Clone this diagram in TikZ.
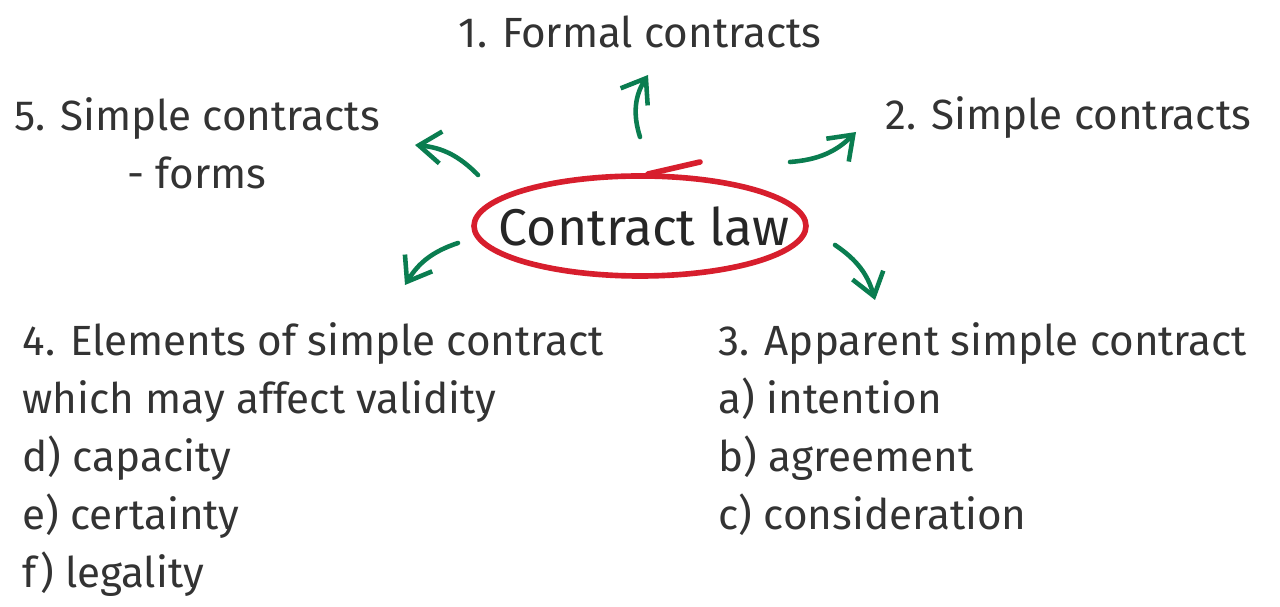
\documentclass[tikz,border=0pt]{standalone}
\usepackage{fontspec}
\setmainfont{Fira Sans}
\usetikzlibrary{arrows.meta}
\definecolor{arrowgreen}{RGB}{10,125,80}
\definecolor{ringred}{RGB}{215,30,45}
\tikzset{
  topic/.style={font=\fontsize{12}{16.5}\selectfont\color{black!80}, inner sep=0pt},
  branch/.style={-{Straight Barb[length=2.2mm,width=3.2mm]}, line width=1.3pt, color=arrowgreen, line cap=round}
}
\begin{document}
\begin{tikzpicture}[x=0.01cm,y=-0.01cm]
    \useasboundingbox (0,0) rectangle (1280,607);

    % Centre topic
    \node[font=\fontsize{14.7}{18}\selectfont\color{black!85}, inner sep=0pt] (law) at (644,226) {Contract law};
    \draw[ringred, line width=1.6pt] (640,226) ellipse (166 and 50);
    \draw[ringred, line width=1.6pt, line cap=round] (648,174) -- (700,162);

    % Branches
    \node[topic] (formal) at (640,32) {1. Formal contracts};
    \node[topic, anchor=west] (simple) at (885,118) {2. Simple contracts};
    \node[topic, align=center] (forms) at (197,143) {5. Simple contracts\\- forms};
    \node[topic, anchor=north west, align=left] (elements) at (22,322)
      {4. Elements of simple contract\\which may affect validity\\d) capacity\\e) certainty\\f) legality};
    \node[topic, anchor=north west, align=left] (apparent) at (718,322)
      {3. Apparent simple contract\\a) intention\\b) agreement\\c) consideration};

    % Arrow ends
    \coordinate (s1) at (640,137); \coordinate (e1) at (648,75);
    \coordinate (s2) at (790,162); \coordinate (e2) at (856,132);
    \coordinate (s3) at (835,245); \coordinate (e3) at (875,300);
    \coordinate (s4) at (458,243); \coordinate (e4) at (405,285);
    \coordinate (s5) at (478,175); \coordinate (e5) at (415,145);

    % Arrows
    \draw[branch] (s1) to[bend left=25] (e1);
    \draw[branch] (s2) to[bend right=20] (e2);
    \draw[branch] (s3) to[bend left=20] (e3);
    \draw[branch] (s4) to[bend right=20] (e4);
    \draw[branch] (s5) to[bend right=20] (e5);
\end{tikzpicture}
\end{document}
